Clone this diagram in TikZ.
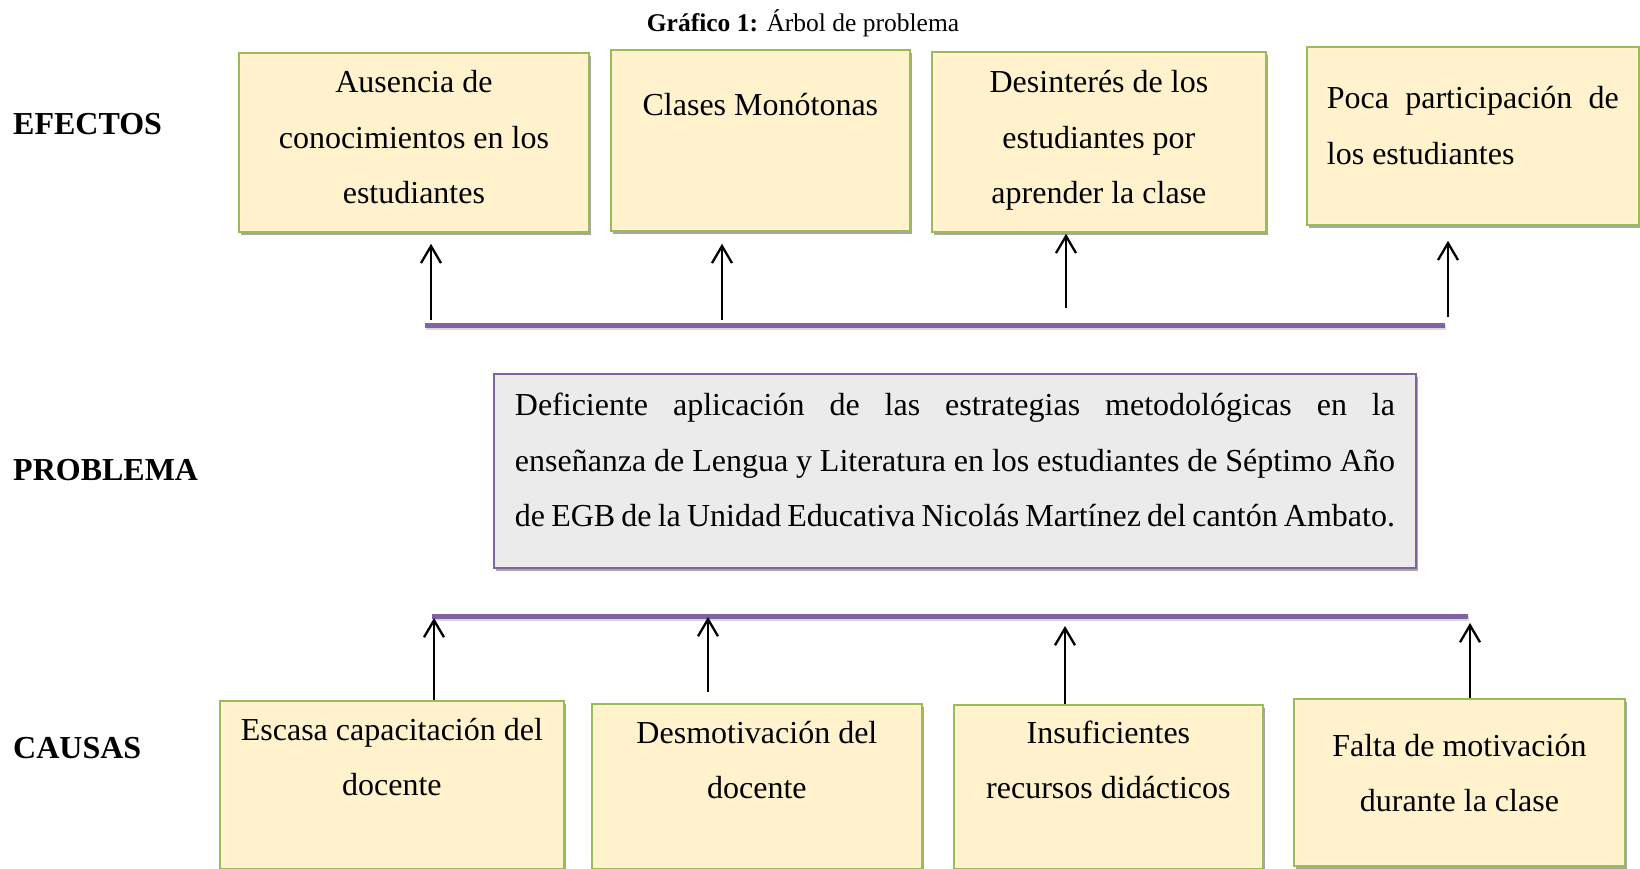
\documentclass[tikz,border=0pt]{standalone}
\usepackage{fontspec}
\setmainfont{Liberation Serif}
\usetikzlibrary{arrows.meta,positioning,shadows}

\definecolor{boxfill}{HTML}{FFF2CC}
\definecolor{boxline}{HTML}{9BBB59}
\definecolor{barline}{HTML}{8064A2}
\definecolor{probfill}{HTML}{EBEBEB}

\tolerance=10000
\hbadness=10000
\hyphenpenalty=10000

\begin{document}
\begin{tikzpicture}[
    x=1pt, y=-1pt,
    font=\fontsize{32}{55.5}\selectfont,
    box/.style={rectangle, draw=boxline, line width=1.8pt, fill=boxfill, align=center, inner xsep=4pt, inner ysep=0pt, anchor=north west,
        drop shadow={shadow xshift=2pt, shadow yshift=-3.5pt, opacity=0.35, fill=black}},
    problem/.style={box, draw=barline, fill=probfill, align=justify, text width=880pt, inner xsep=21pt},
    rowlabel/.style={anchor=base west, inner sep=0pt, font=\fontsize{32}{38}\selectfont\bfseries},
    bar/.style={barline, line width=5pt},
    barshadow/.style={black, opacity=0.15, line width=5pt},
    arrow/.style={-{Straight Barb[length=17pt, width=20pt]}, line width=2.3pt}
]
\useasboundingbox (0,0) rectangle (1640,869);

% Title
\node[anchor=base, inner sep=0pt, font=\fontsize{25.5}{30}\selectfont] (title) at (803,32) {\textbf{Gráfico 1:} Árbol de problema};

% Row labels
\node[rowlabel] (efectos) at (13,135) {EFECTOS};
\node[rowlabel] (problema) at (13,480) {PROBLEMA};
\node[rowlabel] (causas) at (13,758) {CAUSAS};

% Effects
\node[box, minimum width=350pt, text height=151pt, text depth=28pt] (ausencia) at (238,52) {Ausencia de\\conocimientos en los\\estudiantes};
\node[box, minimum width=299pt, text height=66pt, text depth=115pt] (clases) at (610,49) {Clases Monótonas};
\node[box, minimum width=334pt, text height=152pt, text depth=28pt] (desinteres) at (931,51) {Desinterés de los\\estudiantes por\\aprender la clase};
\node[box, align=justify, text width=292pt, inner xsep=20pt, text height=62pt, text depth=116pt] (poca) at (1306,46) {Poca participación de los estudiantes};

% Problem
\node[problem, text height=42pt, text depth=152pt] (deficiente) at (493,373) {Deficiente aplicación de las estrategias metodológicas en la\linebreak enseñanza de Lengua y Literatura en los estudiantes de Séptimo Año\linebreak de EGB de la Unidad Educativa Nicolás Martínez del cantón Ambato.};

% Causes
\node[box, minimum width=344pt, text height=95pt, text depth=73pt] (escasa) at (219,700) {Escasa capacitación del\\docente};
\node[box, minimum width=330pt, text height=95pt, text depth=70pt] (desmotivacion) at (591,703) {Desmotivación del\\docente};
\node[box, minimum width=309pt, text height=94pt, text depth=70pt] (insuficientes) at (953,704) {Insuficientes\\recursos didácticos};
\node[box, minimum width=331pt, text height=113pt, text depth=54pt] (falta) at (1293,698) {Falta de motivación\\durante la clase};

% Bars
\coordinate (topL) at (425,325);
\coordinate (topR) at (1445,325);
\coordinate (botL) at (432,616);
\coordinate (botR) at (1468,616);
\draw[barshadow] ([xshift=1pt,yshift=-2pt]topL) -- ([xshift=1pt,yshift=-2pt]topR);
\draw[bar] (topL) -- (topR);
\draw[barshadow] ([xshift=1pt,yshift=-2pt]botL) -- ([xshift=1pt,yshift=-2pt]botR);
\draw[bar] (botL) -- (botR);

% Arrows to effects
\coordinate (up1) at (431,320);
\coordinate (up2) at (722,320);
\coordinate (up3) at (1066,308);
\coordinate (up4) at (1448,317);
\draw[arrow, shorten >=11pt] (up1) -- (up1 |- ausencia.south);
\draw[arrow, shorten >=12pt] (up2) -- (up2 |- clases.south);
\draw[arrow, shorten >=1pt] (up3) -- (up3 |- desinteres.south);
\draw[arrow, shorten >=15pt] (up4) -- (up4 |- poca.south);

% Arrows from causes
\coordinate (dn1) at (434,618);
\coordinate (dn2) at (708,617);
\coordinate (dn3) at (1065,626);
\coordinate (dn4) at (1470,623);
\draw[arrow] (dn1 |- escasa.north) -- (dn1);
\draw[arrow, shorten <=11pt] (dn2 |- desmotivacion.north) -- (dn2);
\draw[arrow] (dn3 |- insuficientes.north) -- (dn3);
\draw[arrow] (dn4 |- falta.north) -- (dn4);

\end{tikzpicture}
\end{document}
